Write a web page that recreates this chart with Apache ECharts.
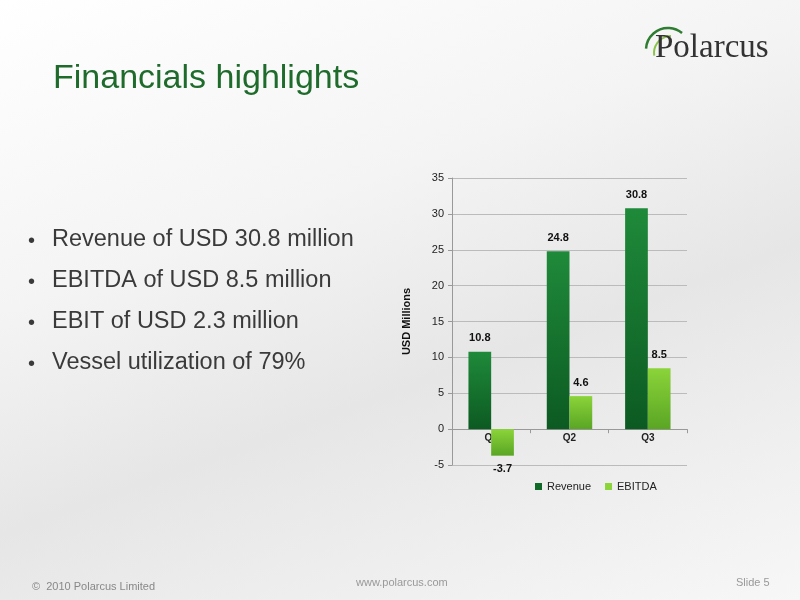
<!DOCTYPE html>
<html>
<head>
<meta charset="utf-8">
<script src="https://cdn.jsdelivr.net/npm/echarts@6/dist/echarts.min.js"></script>
<style>
  html, body { margin: 0; padding: 0; }
  #main { width: 800px; height: 600px; background: linear-gradient(160deg, #ffffff 0%, #f4f4f4 35%, #e6e6e6 60%, #f7f7f7 100%); }
</style>
</head>
<body>
<div id="main"></div>
<script>
var quarters = ['Q1', 'Q2', 'Q3'];
var revenue = [10.8, 24.8, 30.8];
var ebitda = [-3.7, 4.6, 8.5];
var bullets = [
  'Revenue of USD 30.8 million',
  'EBITDA of USD 8.5 million',
  'EBIT of USD 2.3 million',
  'Vessel utilization of 79%'
];

var chart = echarts.init(document.getElementById('main'));

var bulletGraphics = [];
bullets.forEach(function (b, i) {
  bulletGraphics.push({
    type: 'text', left: 28, top: 231 + i * 41,
    style: { text: '•', fill: '#3a3a3a', font: '20px "Liberation Sans", Arial, sans-serif' }
  });
  bulletGraphics.push({
    type: 'text', left: 52, top: 228 + i * 41,
    style: { text: b, fill: '#3a3a3a', font: '23.5px "Liberation Sans", Arial, sans-serif' }
  });
});

function labelFor(v) {
  return {
    value: v,
    label: { position: v < 0 ? 'bottom' : 'top' }
  };
}

var option = {
  textStyle: { fontFamily: '"Liberation Sans", Arial, sans-serif' },
  title: {
    text: 'Financials highlights', left: 48, top: 57,
    textStyle: { color: '#1e6b2c', fontSize: 34, fontWeight: 'normal' }
  },
  graphic: bulletGraphics.concat([
    { type: 'arc', shape: { cx: 668, cy: 50, r: 22, startAngle: Math.PI * 1.02, endAngle: Math.PI * 1.72 },
      style: { stroke: '#2e7d32', lineWidth: 2.5, fill: null } },
    { type: 'arc', shape: { cx: 671, cy: 53, r: 17, startAngle: Math.PI * 0.95, endAngle: Math.PI * 1.5 },
      style: { stroke: '#8bc34a', lineWidth: 2, fill: null } },
    { type: 'text', left: 655, top: 32,
      style: { text: 'Polarcus', fill: '#333', font: '33px "Liberation Serif", serif' } },
    { type: 'text', left: 32, top: 581,
      style: { text: '©  2010 Polarcus Limited', fill: '#888', font: '11px "Liberation Sans", Arial, sans-serif' } },
    { type: 'text', left: 356, top: 577,
      style: { text: 'www.polarcus.com', fill: '#999', font: '11px "Liberation Sans", Arial, sans-serif' } },
    { type: 'text', left: 736, top: 577,
      style: { text: 'Slide 5', fill: '#999', font: '11px "Liberation Sans", Arial, sans-serif' } }
  ]),
  legend: {
    top: 476, left: 530, itemWidth: 7, itemHeight: 7, itemGap: 14, icon: 'rect',
    textStyle: { fontSize: 11, color: '#222' },
    data: [
      { name: 'Revenue', itemStyle: { color: '#0f6a28' } },
      { name: 'EBITDA', itemStyle: { color: '#8bd43a' } }
    ]
  },
  grid: { left: 452, right: 113, top: 178, bottom: 135 },
  xAxis: {
    type: 'category', data: quarters,
    axisLine: { onZero: false, lineStyle: { color: '#999' } },
    offset: -35.8,
    axisTick: { show: true, length: 4, lineStyle: { color: '#999' } },
    axisLabel: { color: '#222', fontSize: 10, fontWeight: 'bold', margin: 4 }
  },
  yAxis: {
    type: 'value', min: -5, max: 35, interval: 5,
    name: 'USD Millions', nameLocation: 'middle', nameGap: 40, nameRotate: 90,
    nameTextStyle: { fontSize: 11, fontWeight: 'bold', color: '#111' },
    axisLine: { show: true, lineStyle: { color: '#999' } },
    axisTick: { show: true, length: 4, lineStyle: { color: '#999' } },
    axisLabel: { color: '#222', fontSize: 11 },
    splitLine: { lineStyle: { color: '#bbb' } }
  },
  series: [
    {
      name: 'Revenue', type: 'bar', data: revenue.map(labelFor),
      barGap: '0%', barCategoryGap: '42%',
      itemStyle: { color: new echarts.graphic.LinearGradient(0, 0, 0, 1, [
        { offset: 0, color: '#1f8a3a' }, { offset: 1, color: '#0c5a22' }]) },
      label: { show: true, fontSize: 11, fontWeight: 'bold', color: '#111', distance: 8 }
    },
    {
      name: 'EBITDA', type: 'bar', data: ebitda.map(labelFor),
      itemStyle: { color: new echarts.graphic.LinearGradient(0, 0, 0, 1, [
        { offset: 0, color: '#8bd43a' }, { offset: 1, color: '#5aa524' }]) },
      label: { show: true, fontSize: 11, fontWeight: 'bold', color: '#111', distance: 8 }
    }
  ]
};
chart.setOption(option);
</script>
</body>
</html>
